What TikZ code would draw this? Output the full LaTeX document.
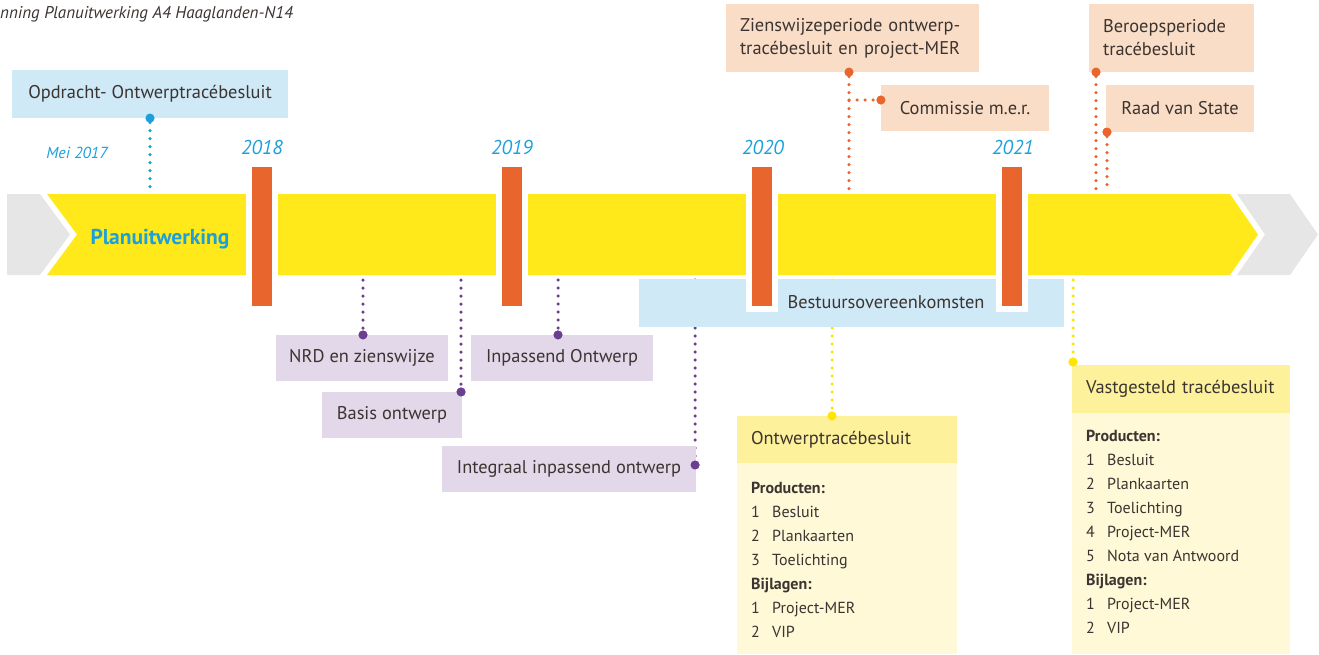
\documentclass[tikz,border=0pt]{standalone}
\usepackage{fontspec}
\setmainfont{PT Sans}
\usepackage{xcolor}
\usetikzlibrary{positioning}
\definecolor{myyellow}{HTML}{FFE91A}
\definecolor{myorange}{HTML}{E8662E}
\definecolor{mygrey}{HTML}{E6E6E6}
\definecolor{myblue}{HTML}{1BA0DC}
\definecolor{mylightblue}{HTML}{CFE9F7}
\definecolor{mypeach}{HTML}{FADDC7}
\definecolor{mylilac}{HTML}{E2D8EA}
\definecolor{mypurple}{HTML}{6B3F8F}
\definecolor{myhead}{HTML}{FDF19B}
\definecolor{mybody}{HTML}{FFF9D8}
\definecolor{mydot}{HTML}{FFE500}
\definecolor{mytext}{HTML}{3B3431}
\tikzstyle{box} = [anchor=north west, inner sep=0pt, outer sep=0pt, text=mytext, font=\fontsize{18.4}{23}\selectfont]
\tikzstyle{bluebox} = [box, fill=mylightblue]
\tikzstyle{peachbox} = [box, fill=mypeach]
\tikzstyle{lilacbox} = [box, fill=mylilac]
\tikzstyle{headbox} = [box, fill=myhead, align=left, inner xsep=14pt]
\tikzstyle{bodybox} = [box, fill=mybody]
\tikzstyle{listtxt} = [anchor=north west, inner sep=0pt, align=left, text=mytext, font=\fontsize{16}{24}\selectfont]
\tikzstyle{bar} = [fill=myorange, draw=white, line width=6pt, minimum width=26pt, minimum height=145pt, inner sep=0pt]
\tikzstyle{year} = [text=myblue, font=\fontsize{20}{20}\selectfont\itshape]
\tikzstyle{dotline} = [line width=3.5pt, line cap=round, dash pattern=on 0pt off 8pt]
\tikzstyle{pin} = [circle, inner sep=0pt, minimum size=9pt]
\newcommand{\prodline}[2]{\makebox[21pt][l]{#1}#2}

\begin{document}
\begin{tikzpicture}[x=1pt,y=-1pt]
          \useasboundingbox (0,0) rectangle (1319,654);
          % basics
          \node[anchor=west, inner sep=0pt, text=mytext, font=\fontsize{17}{17}\selectfont\itshape] (title) at (0,14) {nning Planuitwerking A4 Haaglanden-N14};
          \fill[mygrey] (7,194) -- (40,194) -- (70,234.5) -- (40,275) -- (7,275) -- cycle;
          \fill[mygrey] (1237,194) -- (1290,194) -- (1318,234.5) -- (1290,275) -- (1237,275) -- (1265,234.5) -- cycle;
          \fill[myyellow] (47,194) -- (1230,194) -- (1258,234.5) -- (1230,275) -- (47,275) -- (77,234.5) -- cycle;
          \node[text=myblue, font=\fontsize{21.5}{21.5}\selectfont\bfseries] (plan) at (160,239) {Planuitwerking};
          \node[text=myblue, font=\fontsize{16}{16}\selectfont\itshape] (mei) at (77,153) {Mei 2017};

          % connectors
          \coordinate (opdrachtend) at (150,192);
          \coordinate (ziensend) at (849,192);
          \coordinate (commjoin) at (849,100);
          \coordinate (beroepend) at (1096,190);
          \coordinate (raadend) at (1107,190);
          \coordinate (nrdtop) at (363,280);
          \coordinate (basistop) at (461,280);
          \coordinate (inptop) at (558,280);
          \coordinate (integtop) at (695,280);
          \coordinate (otbtop) at (832,280);
          \coordinate (vtbtop) at (1073,280);
          \node[pin, fill=myblue] (opdrachtpin) at (150,118) {};
          \node[pin, fill=myorange] (zienspin) at (849,72) {};
          \node[pin, fill=myorange] (commpin) at (881,100) {};
          \node[pin, fill=myorange] (beroeppin) at (1096,72) {};
          \node[pin, fill=myorange] (raadpin) at (1107,132) {};
          \node[pin, fill=mypurple] (nrdpin) at (363,335) {};
          \node[pin, fill=mypurple] (basispin) at (461,392) {};
          \node[pin, fill=mypurple] (inppin) at (558,335) {};
          \node[pin, fill=mypurple] (integpin) at (695,465) {};
          \node[pin, fill=mydot] (otbpin) at (832,416) {};
          \node[pin, fill=mydot] (vtbpin) at (1073,362) {};
          \draw[dotline, myblue] (opdrachtpin) -- (opdrachtend);
          \draw[dotline, myorange] (zienspin) -- (ziensend);
          \draw[dotline, myorange] (commjoin) -- (commpin);
          \draw[dotline, myorange] (beroeppin) -- (beroepend);
          \draw[dotline, myorange] (raadpin) -- (raadend);
          \draw[dotline, mypurple] (nrdtop) -- (nrdpin);
          \draw[dotline, mypurple] (basistop) -- (basispin);
          \draw[dotline, mypurple] (inptop) -- (inppin);
          \draw[dotline, mypurple] (integtop) -- (integpin);
          \draw[dotline, mydot] (otbtop) -- (otbpin);
          \draw[dotline, mydot] (vtbtop) -- (vtbpin);

          % boxes
          \node[bluebox, minimum width=276pt, minimum height=48pt] (opdracht) at (12,70) {Opdracht- Ontwerptracébesluit};
          \node[peachbox, align=left, inner xsep=14pt, text width=225pt, minimum height=68pt] (ziens) at (726,4) {Zienswijzeperiode ontwerp-\\tracébesluit en project-MER};
          \node[peachbox, minimum width=168pt, minimum height=46pt] (comm) at (881,85) {Commissie m.e.r.};
          \node[peachbox, align=left, inner xsep=14pt, text width=137pt, minimum height=68pt] (beroep) at (1089,4) {Beroepsperiode\\tracébesluit};
          \node[peachbox, minimum width=148pt, minimum height=47pt] (raad) at (1106,85) {Raad van State};
          \node[bluebox, minimum width=425pt, minimum height=48pt] (bestuur) at (639,279) {};
          \node[text=mytext, font=\fontsize{18.4}{18.4}\selectfont] (bestuurtxt) at (886,302) {Bestuursovereenkomsten};
          \node[lilacbox, minimum width=172pt, minimum height=46pt] (nrd) at (276,335) {NRD en zienswijze};
          \node[lilacbox, minimum width=140pt, minimum height=46pt] (basis) at (322,392) {Basis ontwerp};
          \node[lilacbox, minimum width=182pt, minimum height=46pt] (inp) at (471,335) {Inpassend Ontwerp};
          \node[lilacbox, minimum width=254pt, minimum height=46pt] (integ) at (442,446) {Integraal inpassend ontwerp};
          \node[headbox, text width=192pt, minimum height=47pt] (otbhead) at (737,416) {Ontwerptracébesluit};
          \node[bodybox, minimum width=220pt, minimum height=191pt, anchor=north, below=0pt of otbhead] (otbbody) {};
          \node[headbox, text width=190pt, minimum height=48pt] (vtbhead) at (1072,365) {Vastgesteld tracébesluit};
          \node[bodybox, minimum width=218pt, minimum height=241pt, anchor=north, below=0pt of vtbhead] (vtbbody) {};
          \node[listtxt] (otblist) at (751,482) {\textbf{Producten:}\\\prodline{1}{Besluit}\\\prodline{2}{Plankaarten}\\\prodline{3}{Toelichting}\\\textbf{Bijlagen:}\\\prodline{1}{Project-MER}\\\prodline{2}{VIP}};
          \node[listtxt] (vtblist) at (1086,430) {\textbf{Producten:}\\\prodline{1}{Besluit}\\\prodline{2}{Plankaarten}\\\prodline{3}{Toelichting}\\\prodline{4}{Project-MER}\\\prodline{5}{Nota van Antwoord}\\\textbf{Bijlagen:}\\\prodline{1}{Project-MER}\\\prodline{2}{VIP}};

          % years
          \node[bar] (b2018) at (262,236.5) {};
          \node[bar] (b2019) at (512,236.5) {};
          \node[bar] (b2020) at (762,236.5) {};
          \node[bar] (b2021) at (1012,236.5) {};
          \node[year] (y2018) at (262,147) {2018};
          \node[year] (y2019) at (512,147) {2019};
          \node[year] (y2020) at (763,147) {2020};
          \node[year] (y2021) at (1013,147) {2021};

          % pins on top
          \foreach \p/\c in {opdrachtpin/myblue, zienspin/myorange, commpin/myorange, beroeppin/myorange, raadpin/myorange, nrdpin/mypurple, basispin/mypurple, inppin/mypurple, integpin/mypurple, otbpin/mydot, vtbpin/mydot}
            \fill[\c] (\p) circle (4.5pt);
      \end{tikzpicture}
\end{document}
